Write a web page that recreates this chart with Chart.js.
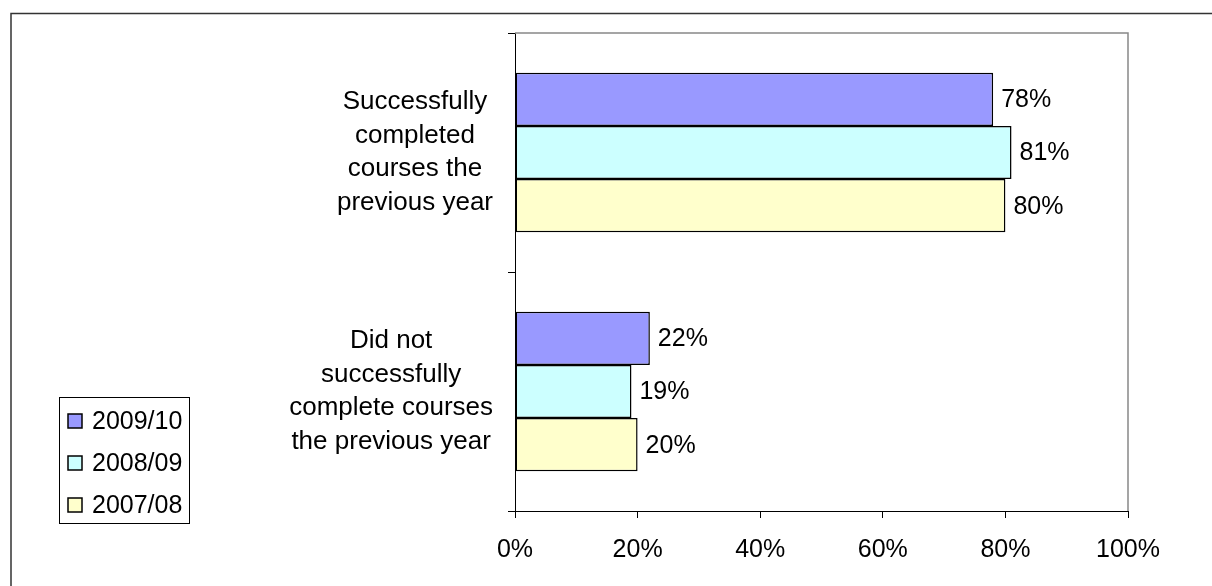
<!DOCTYPE html>
<html lang="en">
<head>
<meta charset="UTF-8" />
<title>Course completion</title>
<style>
  body {
    margin: 0;
    background: #fff;
  }
  #chartContainer {
    position: relative;
    width: 1212px;
    height: 586px;
  }
</style>
</head>
<body>

<div id="chartContainer">
  <canvas id="completionChart"></canvas>
</div>

<script src="https://cdn.jsdelivr.net/npm/chart.js"></script>
<script>
  // Categories (each label split into its wrapped lines)
  const categories = [
    ['Successfully', 'completed', 'courses the', 'previous year'],
    ['Did not', 'successfully', 'complete courses', 'the previous year']
  ];

  // Series, top bar first
  const seriesNames = ['2009/10', '2008/09', '2007/08'];
  const values2009 = [78, 22];
  const values2008 = [81, 19];
  const values2007 = [80, 20];
  const seriesColors = ['#9999FF', '#CCFFFF', '#FFFFCC'];

  // Value axis ticks
  const xTicks = [0, 20, 40, 60, 80, 100];

  const FONT = "'Liberation Sans', Arial, sans-serif";

  // Outer border, plot frame, category labels, value labels and legend
  const decorPlugin = {
    id: 'decor',
    beforeDraw(chart) {
      const c = chart.ctx;
      c.save();
      c.strokeStyle = '#333';
      c.lineWidth = 1.5;
      c.strokeRect(11, 13.5, 1260, 640);
      c.restore();
    },
    afterDraw(chart) {
      const c = chart.ctx;
      const area = chart.chartArea;
      const yScale = chart.scales.y;
      c.save();

      // grey frame on top and right of the plot
      c.strokeStyle = '#888';
      c.lineWidth = 1.5;
      c.beginPath();
      c.moveTo(area.left, area.top);
      c.lineTo(area.right, area.top);
      c.lineTo(area.right, area.bottom);
      c.stroke();

      // category labels: block right aligned, lines centred inside it
      c.fillStyle = '#000';
      c.font = '26px ' + FONT;
      c.textAlign = 'center';
      c.textBaseline = 'middle';
      const lineH = 33.5;
      categories.forEach((lines, i) => {
        const yc = yScale.getPixelForTick(i);
        const widest = Math.max(...lines.map(l => c.measureText(l).width));
        const xc = area.left - 22 - widest / 2;
        lines.forEach((l, j) => {
          c.fillText(l, xc, yc + (j - (lines.length - 1) / 2) * lineH);
        });
      });

      // value labels
      c.font = '25px ' + FONT;
      c.textAlign = 'left';
      chart.data.datasets.forEach((ds, di) => {
        const meta = chart.getDatasetMeta(di);
        meta.data.forEach((bar, i) => {
          c.fillText(ds.data[i] + '%', bar.x + 8, bar.y + 1);
        });
      });

      // legend box
      c.strokeStyle = '#000';
      c.lineWidth = 1;
      c.strokeRect(59.5, 397.5, 130, 126);
      chart.data.datasets.forEach((ds, di) => {
        const yc = 421 + di * 42;
        c.fillStyle = ds.backgroundColor;
        c.fillRect(68, yc - 7, 14, 14);
        c.strokeStyle = '#000';
        c.lineWidth = 1.5;
        c.strokeRect(68, yc - 7, 14, 14);
        c.fillStyle = '#000';
        c.fillText(ds.label, 92, yc + 1);
      });
      c.restore();
    }
  };

  const seriesValues = [values2009, values2008, values2007];

  const ctx = document.getElementById('completionChart').getContext('2d');
  const completionChart = new Chart(ctx, {
    type: 'bar',
    data: {
      labels: categories,
      datasets: seriesNames.map((name, i) => ({
        label: name,
        data: seriesValues[i],
        backgroundColor: seriesColors[i],
        borderColor: '#000',
        borderWidth: 1.5,
        borderSkipped: false,
        barPercentage: 1.0,
        categoryPercentage: 0.667
      }))
    },
    options: {
      indexAxis: 'y',
      responsive: true,
      maintainAspectRatio: false,
      animation: false,
      layout: {
        padding: { left: 0, right: 84, top: 33, bottom: 0 }
      },
      plugins: {
        legend: { display: false },
        tooltip: { enabled: false }
      },
      scales: {
        x: {
          min: 0,
          max: 100,
          afterBuildTicks: scale => {
            scale.ticks = xTicks.map(v => ({ value: v }));
          },
          afterFit: scale => { scale.height = 75; },
          grid: {
            drawOnChartArea: false,
            color: '#000',
            tickLength: 7
          },
          border: { color: '#000', width: 1 },
          ticks: {
            color: '#000',
            padding: 17,
            maxRotation: 0,
            font: { family: FONT, size: 25 },
            callback: v => v + '%'
          }
        },
        y: {
          afterFit: scale => { scale.width = 515; },
          grid: {
            offset: true,
            drawOnChartArea: false,
            color: '#000',
            tickLength: 7
          },
          border: { color: '#000', width: 1 },
          ticks: { display: false }
        }
      }
    },
    plugins: [decorPlugin]
  });
</script>

</body>
</html>
